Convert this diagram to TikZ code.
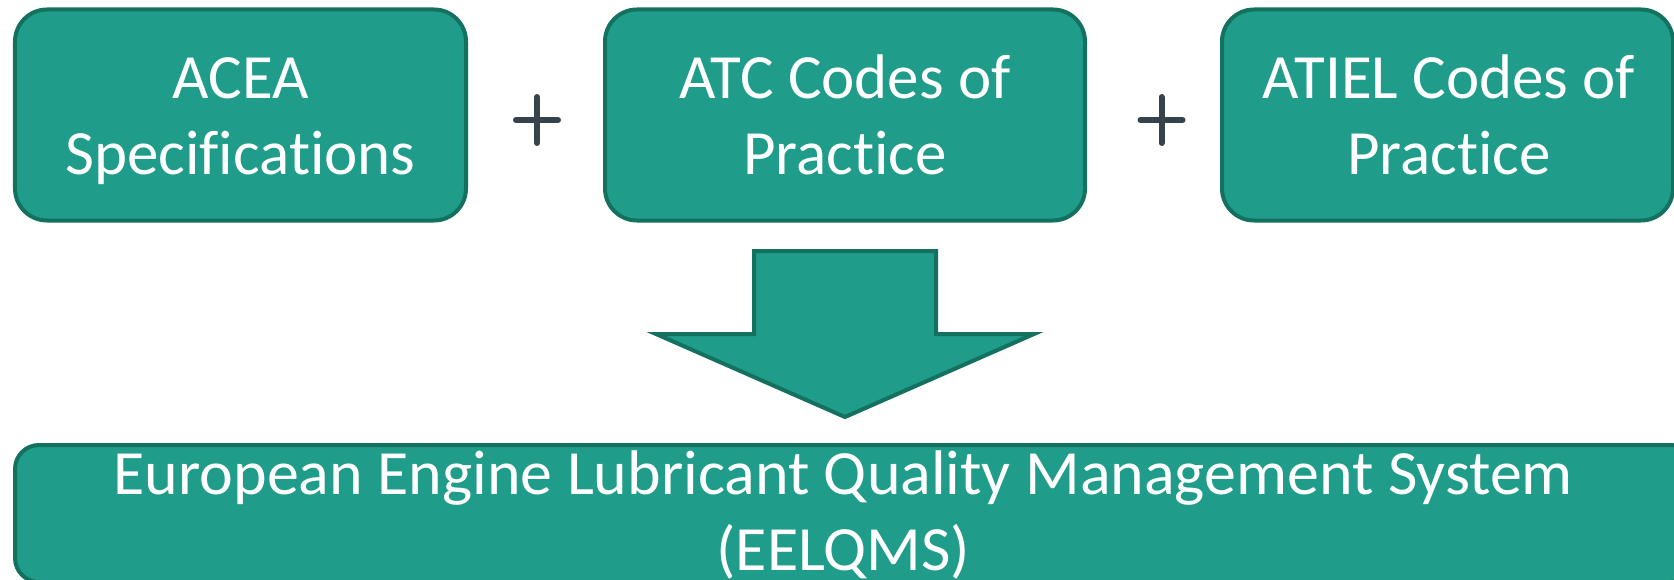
\documentclass[tikz,border=0pt]{standalone}
\usepackage{fontspec}
\setmainfont{Carlito}[Ligatures={NoCommon,NoContextual}]
\definecolor{tealfill}{HTML}{1F9D8A}
\definecolor{tealline}{HTML}{14715F}
\definecolor{plusgray}{HTML}{37434C}
\begin{document}
\begin{tikzpicture}[x=1bp,y=-1bp,
  box/.style={draw=tealline, line width=4bp, fill=tealfill, rounded corners=32bp, inner sep=0pt, minimum height=211bp},
  lbl/.style={text=white, font=\fontsize{63bp}{76bp}\selectfont, align=center, inner sep=0pt, anchor=base},
  plusline/.style={draw=plusgray, line width=6bp, line cap=round}]
\path[use as bounding box] (0,0) rectangle (1674,580);
\clip (0,0) rectangle (1674,580);
% top boxes
\node[box, minimum width=451bp] (acea) at (240.5,115) {};
\node[box, minimum width=480bp] (atc) at (845,115) {};
\node[box, minimum width=451bp] (atiel) at (1447.5,115) {};
\node[lbl] (acea-t) at (240.5,174.5) {ACEA\\Specifications};
\node[lbl] (atc-t) at (845,174.5) {ATC Codes of\\Practice};
\node[lbl] (atiel-t) at (1449,174.5) {ATIEL Codes of\\Practice};
% plus signs
\coordinate (p1) at (537,120);
\coordinate (p2) at (1161.5,120);
\foreach \p in {p1,p2}{
  \draw[plusline] ([xshift=-21bp]\p) -- ([xshift=21bp]\p);
  \draw[plusline] ([yshift=-23bp]\p) -- ([yshift=23bp]\p);
}
% block arrow
\draw[draw=tealline, line width=4bp, fill=tealfill, line join=miter]
  (754,251) -- (936,251) -- (936,334) -- (1034,334) -- (845,417) -- (656,334) -- (754,334) -- cycle;
% bottom box
\node[box, rounded corners=24bp, minimum width=1680bp, minimum height=137bp, anchor=north west] (eelqms) at (13,443) {};
\node[lbl, xscale=1.015] (eelqms-t) at (843.5,570) {European Engine Lubricant Quality Management System\\(EELQMS)};
\end{tikzpicture}
\end{document}
